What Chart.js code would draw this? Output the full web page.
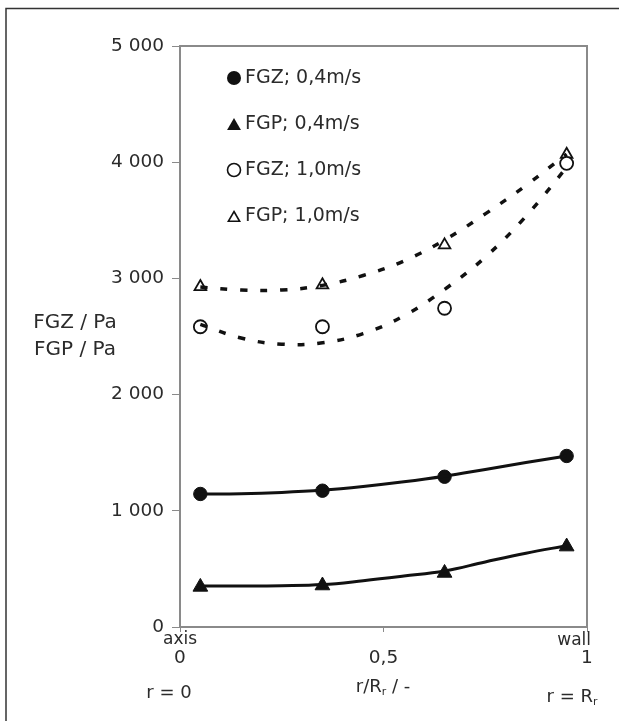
<!DOCTYPE html>
<html>
<head>
<meta charset="utf-8">
<script src="https://cdn.jsdelivr.net/npm/chart.js@4"></script>
<style>
  body { margin: 0; background: #fff; }
  canvas { display: block; }
</style>
</head>
<body>
<canvas id="chart" width="619" height="723"></canvas>
<script>
// measured positions r/Rr
const xPos = [0.05, 0.35, 0.65, 0.95];
const fgz04 = [1145, 1173, 1293, 1472];
const fgp04 = [345, 357, 465, 692];
const fgz10 = [2584, 2584, 2743, 3990];
const fgp10 = [2928, 2943, 3287, 4067];

// trend lines
const trendX = [0.05, 0.15, 0.25, 0.35, 0.45, 0.55, 0.65, 0.75, 0.85, 0.95];
const trendFgz04 = [1145, 1147, 1158, 1178, 1210, 1250, 1298, 1356, 1415, 1472];
const trendFgp04 = [352, 352, 355, 365, 398, 438, 482, 560, 635, 700];
const trendFgz10 = [2605, 2487, 2434, 2446, 2525, 2678, 2905, 3183, 3535, 3955];
const trendFgp10 = [2925, 2900, 2900, 2940, 3025, 3150, 3330, 3555, 3800, 4070];

const yTicks = [0, 1000, 2000, 3000, 4000, 5000];
const legendLabels = ['FGZ; 0,4m/s', 'FGP; 0,4m/s', 'FGZ; 1,0m/s', 'FGP; 1,0m/s'];

const ink = '#111';
const txt = '#2b2b2b';
const frame = '#8a8a8a';
const FONT = '"DejaVu Sans", sans-serif';

function pts(xs, ys) {
  return xs.map((x, i) => ({ x: x, y: ys[i] }));
}

function trend(ys, dashed) {
  return {
    data: pts(trendX, ys),
    borderColor: ink,
    borderWidth: dashed ? 3.5 : 3,
    borderDash: dashed ? [7, 13] : [],
    pointRadius: 0,
    tension: 0.4,
    fill: false
  };
}

function markers(ys, style, r, filled) {
  return {
    data: pts(xPos, ys),
    showLine: false,
    pointStyle: style,
    pointRadius: r,
    pointBorderWidth: filled ? 1 : 1.8,
    pointBorderColor: ink,
    pointBackgroundColor: filled ? ink : '#fff'
  };
}

function drawMarker(ctx, style, x, y, r, filled) {
  ctx.beginPath();
  if (style === 'circle') {
    ctx.arc(x, y, r, 0, Math.PI * 2);
  } else {
    for (let k = 0; k < 3; k++) {
      const a = k * 2 * Math.PI / 3;
      const px = x + Math.sin(a) * r, py = y - Math.cos(a) * r;
      if (k === 0) ctx.moveTo(px, py); else ctx.lineTo(px, py);
    }
    ctx.closePath();
  }
  if (filled) { ctx.fillStyle = ink; ctx.fill(); }
  else { ctx.fillStyle = '#fff'; ctx.fill(); ctx.lineWidth = 1.6; ctx.strokeStyle = ink; ctx.stroke(); }
}

// text with subscript parts, centred on cx
function subText(ctx, parts, cx, cy, size) {
  let w = 0;
  parts.forEach(p => {
    ctx.font = (p.sub ? size * 0.6 : size) + 'px ' + FONT;
    p.w = ctx.measureText(p.t).width;
    w += p.w;
  });
  let x = cx - w / 2;
  ctx.textAlign = 'left';
  parts.forEach(p => {
    ctx.font = (p.sub ? size * 0.6 : size) + 'px ' + FONT;
    ctx.fillText(p.t, x, p.sub ? cy + size * 0.3 : cy);
    x += p.w;
  });
}

const extras = {
  id: 'extras',
  beforeDatasetsDraw(chart) {
    const ctx = chart.ctx, a = chart.chartArea;
    ctx.save();
    ctx.strokeStyle = frame;
    ctx.lineWidth = 2;
    ctx.beginPath();
    ctx.moveTo(a.left, a.top);
    ctx.lineTo(a.right, a.top);
    ctx.lineTo(a.right, a.bottom);
    ctx.stroke();
    ctx.restore();
  },
  afterDraw(chart) {
    const ctx = chart.ctx;
    ctx.save();
    // outer frame
    ctx.strokeStyle = '#333';
    ctx.lineWidth = 1.5;
    ctx.beginPath();
    ctx.moveTo(6, 721);
    ctx.lineTo(6, 8.5);
    ctx.lineTo(619, 8.5);
    ctx.stroke();

    ctx.fillStyle = txt;
    ctx.textBaseline = 'middle';
    ctx.textAlign = 'center';
    ctx.font = '20px ' + FONT;
    ctx.fillText('FGZ / Pa', 75, 323);
    ctx.fillText('FGP / Pa', 75, 350);

    ctx.font = '17px ' + FONT;
    ctx.fillText('axis', 180, 640);
    ctx.textAlign = 'right';
    ctx.fillText('wall', 591, 641);

    ctx.fillStyle = txt;
    subText(ctx, [{ t: 'r = 0' }], 169, 693, 18);
    subText(ctx, [{ t: 'r/R' }, { t: 'r', sub: true }, { t: ' / -' }], 383, 687, 18);
    subText(ctx, [{ t: 'r = R' }, { t: 'r', sub: true }], 572, 697, 18);

    // legend
    const styles = [['circle', 7, true], ['triangle', 8, true], ['circle', 6.5, false], ['triangle', 6.5, false]];
    const rows = [78, 124, 170, 216];
    rows.forEach((ry, i) => {
      const s = styles[i];
      drawMarker(ctx, s[0], 234, s[0] === 'triangle' ? ry + 2 : ry, s[1], s[2]);
      ctx.fillStyle = txt;
      ctx.textAlign = 'left';
      ctx.font = '19px ' + FONT;
      ctx.fillText(legendLabels[i], 245, ry);
    });
    ctx.restore();
  }
};

new Chart(document.getElementById('chart'), {
  type: 'line',
  data: {
    datasets: [
      trend(trendFgz04, false),
      trend(trendFgp04, false),
      trend(trendFgz10, true),
      trend(trendFgp10, true),
      markers(fgz04, 'circle', 6.7, true),
      markers(fgp04, 'triangle', 8.5, true),
      markers(fgz10, 'circle', 6.5, false),
      markers(fgp10, 'triangle', 6.7, false)
    ]
  },
  options: {
    responsive: false,
    animation: false,
    devicePixelRatio: 1,
    layout: { padding: { top: 46, right: 32, left: 0, bottom: 0 } },
    plugins: { legend: { display: false }, tooltip: { enabled: false } },
    scales: {
      x: {
        type: 'linear',
        min: 0,
        max: 1,
        ticks: {
          stepSize: 0.5,
          padding: 15,
          color: txt,
          font: { family: FONT, size: 18.5 },
          callback: v => String(v).replace('.', ',')
        },
        grid: { drawOnChartArea: false, drawTicks: true, tickLength: 5, color: frame },
        border: { display: true, color: frame, width: 2 },
        afterFit: s => { s.height = 96; }
      },
      y: {
        min: 0,
        max: 5000,
        afterBuildTicks: s => { s.ticks = yTicks.map(v => ({ value: v })); },
        ticks: {
          padding: 8,
          color: txt,
          font: { family: FONT, size: 18.5 },
          callback: v => v >= 1000 ? Math.floor(v / 1000) + ' 000' : String(v)
        },
        grid: { drawOnChartArea: false, drawTicks: true, tickLength: 8, color: frame },
        border: { display: true, color: frame, width: 2 },
        afterFit: s => { s.width = 180; }
      }
    }
  },
  plugins: [extras]
});
</script>
</body>
</html>
